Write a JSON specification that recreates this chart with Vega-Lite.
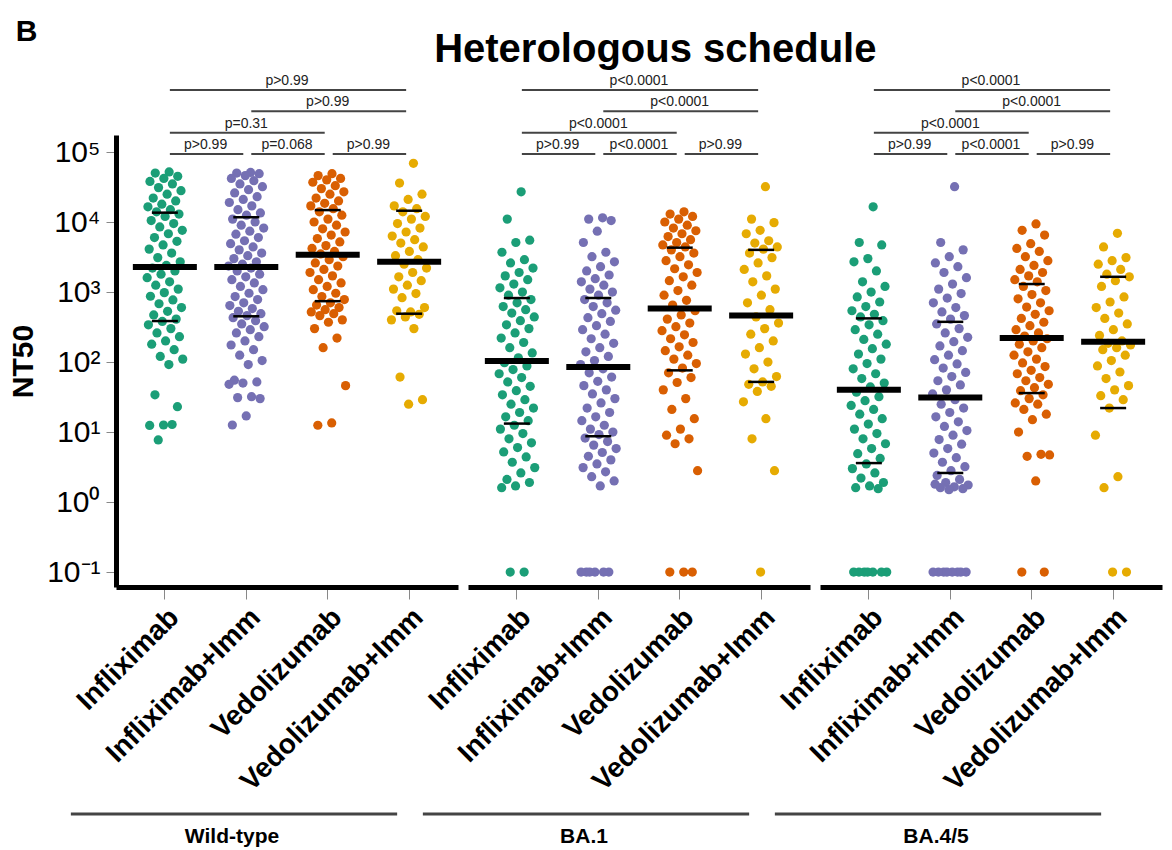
{
"$schema": "https://vega.github.io/schema/vega-lite/v6.json",
"padding": {"left": 8, "top": 16, "right": 5, "bottom": 5},
"config": {"view": {"stroke": null}, "font": "Liberation Sans", "axis": {"grid": false}},
"title": {"text": "B", "anchor": "start", "frame": "bounds", "fontSize": 30, "fontWeight": "bold", "font": "Liberation Sans", "color": "black", "offset": -20, "dy": -3, "dx": 7},
"vconcat": [{
"title": {"text": "Heterologous schedule", "fontSize": 40, "fontWeight": "bold", "font": "Liberation Sans", "color": "black", "anchor": "middle", "dx": 70},
"data": {"values": [
{"s":"WT","lab":"Wild-type"},{"s":"BA1","lab":"BA.1"},{"s":"BA45","lab":"BA.4/5"},
{"s":"WT","g1":"A","g2":"B","lvl":0,"p":"p>0.99","tm":"A","tb":"e"},
{"s":"WT","g1":"B","g2":"C","lvl":0,"p":"p=0.068","tm":"B","tb":"e"},
{"s":"WT","g1":"C","g2":"D","lvl":0,"p":"p>0.99","tm":"C","tb":"e"},
{"s":"WT","g1":"A","g2":"C","lvl":1,"p":"p=0.31","tm":"B","tb":"c"},
{"s":"WT","g1":"B","g2":"D","lvl":2,"p":"p>0.99","tm":"C","tb":"c"},
{"s":"WT","g1":"A","g2":"D","lvl":3,"p":"p>0.99","tm":"B","tb":"e"},
{"s":"BA1","g1":"A","g2":"B","lvl":0,"p":"p>0.99","tm":"A","tb":"e"},
{"s":"BA1","g1":"B","g2":"C","lvl":0,"p":"p<0.0001","tm":"B","tb":"e"},
{"s":"BA1","g1":"C","g2":"D","lvl":0,"p":"p>0.99","tm":"C","tb":"e"},
{"s":"BA1","g1":"A","g2":"C","lvl":1,"p":"p<0.0001","tm":"B","tb":"c"},
{"s":"BA1","g1":"B","g2":"D","lvl":2,"p":"p<0.0001","tm":"C","tb":"c"},
{"s":"BA1","g1":"A","g2":"D","lvl":3,"p":"p<0.0001","tm":"B","tb":"e"},
{"s":"BA45","g1":"A","g2":"B","lvl":0,"p":"p>0.99","tm":"A","tb":"e"},
{"s":"BA45","g1":"B","g2":"C","lvl":0,"p":"p<0.0001","tm":"B","tb":"e"},
{"s":"BA45","g1":"C","g2":"D","lvl":0,"p":"p>0.99","tm":"C","tb":"e"},
{"s":"BA45","g1":"A","g2":"C","lvl":1,"p":"p<0.0001","tm":"B","tb":"c"},
{"s":"BA45","g1":"B","g2":"D","lvl":2,"p":"p<0.0001","tm":"C","tb":"c"},
{"s":"BA45","g1":"A","g2":"D","lvl":3,"p":"p<0.0001","tm":"B","tb":"e"},
{"s":"WT","g":"A","med":2280,"q1":385,"q3":13600},
{"s":"WT","g":"B","med":2280,"q1":450,"q3":11700},
{"s":"WT","g":"C","med":3400,"q1":740,"q3":14800},
{"s":"WT","g":"D","med":2700,"q1":490,"q3":14500},
{"s":"BA1","g":"A","med":103,"q1":13.2,"q3":820},
{"s":"BA1","g":"B","med":85,"q1":8.7,"q3":820},
{"s":"BA1","g":"C","med":580,"q1":76,"q3":4300},
{"s":"BA1","g":"D","med":460,"q1":52,"q3":4000},
{"s":"BA45","g":"A","med":40,"q1":3.6,"q3":420},
{"s":"BA45","g":"B","med":31,"q1":2.6,"q3":375},
{"s":"BA45","g":"C","med":220,"q1":36,"q3":1300},
{"s":"BA45","g":"D","med":195,"q1":22,"q3":1650},
{"s":"WT","g":"A","v":52000},{"s":"WT","g":"A","v":50000},{"s":"WT","g":"A","v":45000},{"s":"WT","g":"A","v":42000},{"s":"WT","g":"A","v":38000},{"s":"WT","g":"A","v":35000},{"s":"WT","g":"A","v":31000},{"s":"WT","g":"A","v":28000},{"s":"WT","g":"A","v":25000},{"s":"WT","g":"A","v":22000},{"s":"WT","g":"A","v":20000},{"s":"WT","g":"A","v":18000},{"s":"WT","g":"A","v":16500},{"s":"WT","g":"A","v":15000},{"s":"WT","g":"A","v":14000},{"s":"WT","g":"A","v":13000},{"s":"WT","g":"A","v":12000},{"s":"WT","g":"A","v":10500},{"s":"WT","g":"A","v":9500},{"s":"WT","g":"A","v":8500},{"s":"WT","g":"A","v":7600},{"s":"WT","g":"A","v":6800},{"s":"WT","g":"A","v":6000},{"s":"WT","g":"A","v":5300},{"s":"WT","g":"A","v":4700},{"s":"WT","g":"A","v":4100},{"s":"WT","g":"A","v":3600},{"s":"WT","g":"A","v":3100},{"s":"WT","g":"A","v":2700},{"s":"WT","g":"A","v":2400},{"s":"WT","g":"A","v":2200},{"s":"WT","g":"A","v":2000},{"s":"WT","g":"A","v":1800},{"s":"WT","g":"A","v":1600},{"s":"WT","g":"A","v":1400},{"s":"WT","g":"A","v":1250},{"s":"WT","g":"A","v":1100},{"s":"WT","g":"A","v":980},{"s":"WT","g":"A","v":870},{"s":"WT","g":"A","v":770},{"s":"WT","g":"A","v":680},{"s":"WT","g":"A","v":600},{"s":"WT","g":"A","v":530},{"s":"WT","g":"A","v":470},{"s":"WT","g":"A","v":410},{"s":"WT","g":"A","v":380},{"s":"WT","g":"A","v":340},{"s":"WT","g":"A","v":300},{"s":"WT","g":"A","v":260},{"s":"WT","g":"A","v":230},{"s":"WT","g":"A","v":200},{"s":"WT","g":"A","v":180},{"s":"WT","g":"A","v":150},{"s":"WT","g":"A","v":120},{"s":"WT","g":"A","v":110},{"s":"WT","g":"A","v":92},{"s":"WT","g":"A","v":34},{"s":"WT","g":"A","v":23},{"s":"WT","g":"A","v":12.6},{"s":"WT","g":"A","v":12.4},{"s":"WT","g":"A","v":12.8},{"s":"WT","g":"A","v":7.7},
{"s":"WT","g":"B","v":51000},{"s":"WT","g":"B","v":50000},{"s":"WT","g":"B","v":49000},{"s":"WT","g":"B","v":46000},{"s":"WT","g":"B","v":42000},{"s":"WT","g":"B","v":39000},{"s":"WT","g":"B","v":35000},{"s":"WT","g":"B","v":32000},{"s":"WT","g":"B","v":29000},{"s":"WT","g":"B","v":26000},{"s":"WT","g":"B","v":23000},{"s":"WT","g":"B","v":21000},{"s":"WT","g":"B","v":19000},{"s":"WT","g":"B","v":17000},{"s":"WT","g":"B","v":15000},{"s":"WT","g":"B","v":13500},{"s":"WT","g":"B","v":12500},{"s":"WT","g":"B","v":11000},{"s":"WT","g":"B","v":10000},{"s":"WT","g":"B","v":9000},{"s":"WT","g":"B","v":8200},{"s":"WT","g":"B","v":7400},{"s":"WT","g":"B","v":6700},{"s":"WT","g":"B","v":6000},{"s":"WT","g":"B","v":5400},{"s":"WT","g":"B","v":4900},{"s":"WT","g":"B","v":4400},{"s":"WT","g":"B","v":4000},{"s":"WT","g":"B","v":3600},{"s":"WT","g":"B","v":3300},{"s":"WT","g":"B","v":3000},{"s":"WT","g":"B","v":2700},{"s":"WT","g":"B","v":2500},{"s":"WT","g":"B","v":2350},{"s":"WT","g":"B","v":2200},{"s":"WT","g":"B","v":2000},{"s":"WT","g":"B","v":1800},{"s":"WT","g":"B","v":1650},{"s":"WT","g":"B","v":1500},{"s":"WT","g":"B","v":1350},{"s":"WT","g":"B","v":1200},{"s":"WT","g":"B","v":1080},{"s":"WT","g":"B","v":960},{"s":"WT","g":"B","v":860},{"s":"WT","g":"B","v":780},{"s":"WT","g":"B","v":700},{"s":"WT","g":"B","v":640},{"s":"WT","g":"B","v":580},{"s":"WT","g":"B","v":530},{"s":"WT","g":"B","v":490},{"s":"WT","g":"B","v":460},{"s":"WT","g":"B","v":430},{"s":"WT","g":"B","v":390},{"s":"WT","g":"B","v":350},{"s":"WT","g":"B","v":320},{"s":"WT","g":"B","v":290},{"s":"WT","g":"B","v":260},{"s":"WT","g":"B","v":230},{"s":"WT","g":"B","v":200},{"s":"WT","g":"B","v":175},{"s":"WT","g":"B","v":150},{"s":"WT","g":"B","v":125},{"s":"WT","g":"B","v":105},{"s":"WT","g":"B","v":92},{"s":"WT","g":"B","v":55},{"s":"WT","g":"B","v":52},{"s":"WT","g":"B","v":50},{"s":"WT","g":"B","v":48},{"s":"WT","g":"B","v":32},{"s":"WT","g":"B","v":31},{"s":"WT","g":"B","v":30},{"s":"WT","g":"B","v":17},{"s":"WT","g":"B","v":12.6},
{"s":"WT","g":"C","v":49000},{"s":"WT","g":"C","v":46000},{"s":"WT","g":"C","v":42000},{"s":"WT","g":"C","v":40000},{"s":"WT","g":"C","v":37000},{"s":"WT","g":"C","v":33000},{"s":"WT","g":"C","v":30000},{"s":"WT","g":"C","v":27000},{"s":"WT","g":"C","v":25000},{"s":"WT","g":"C","v":22000},{"s":"WT","g":"C","v":20000},{"s":"WT","g":"C","v":18500},{"s":"WT","g":"C","v":17000},{"s":"WT","g":"C","v":15500},{"s":"WT","g":"C","v":14000},{"s":"WT","g":"C","v":12500},{"s":"WT","g":"C","v":11000},{"s":"WT","g":"C","v":10000},{"s":"WT","g":"C","v":9000},{"s":"WT","g":"C","v":8000},{"s":"WT","g":"C","v":7200},{"s":"WT","g":"C","v":6500},{"s":"WT","g":"C","v":5800},{"s":"WT","g":"C","v":5200},{"s":"WT","g":"C","v":4600},{"s":"WT","g":"C","v":4200},{"s":"WT","g":"C","v":3800},{"s":"WT","g":"C","v":3500},{"s":"WT","g":"C","v":3200},{"s":"WT","g":"C","v":2900},{"s":"WT","g":"C","v":2600},{"s":"WT","g":"C","v":2350},{"s":"WT","g":"C","v":2100},{"s":"WT","g":"C","v":1900},{"s":"WT","g":"C","v":1700},{"s":"WT","g":"C","v":1500},{"s":"WT","g":"C","v":1350},{"s":"WT","g":"C","v":1200},{"s":"WT","g":"C","v":1080},{"s":"WT","g":"C","v":960},{"s":"WT","g":"C","v":860},{"s":"WT","g":"C","v":780},{"s":"WT","g":"C","v":700},{"s":"WT","g":"C","v":650},{"s":"WT","g":"C","v":600},{"s":"WT","g":"C","v":560},{"s":"WT","g":"C","v":520},{"s":"WT","g":"C","v":490},{"s":"WT","g":"C","v":460},{"s":"WT","g":"C","v":400},{"s":"WT","g":"C","v":370},{"s":"WT","g":"C","v":300},{"s":"WT","g":"C","v":220},{"s":"WT","g":"C","v":160},{"s":"WT","g":"C","v":46},{"s":"WT","g":"C","v":13.5},{"s":"WT","g":"C","v":12.5},
{"s":"WT","g":"D","v":69000},{"s":"WT","g":"D","v":36000},{"s":"WT","g":"D","v":25000},{"s":"WT","g":"D","v":21000},{"s":"WT","g":"D","v":17000},{"s":"WT","g":"D","v":15500},{"s":"WT","g":"D","v":14000},{"s":"WT","g":"D","v":12000},{"s":"WT","g":"D","v":11000},{"s":"WT","g":"D","v":9500},{"s":"WT","g":"D","v":8200},{"s":"WT","g":"D","v":7200},{"s":"WT","g":"D","v":6300},{"s":"WT","g":"D","v":5600},{"s":"WT","g":"D","v":5000},{"s":"WT","g":"D","v":4400},{"s":"WT","g":"D","v":3800},{"s":"WT","g":"D","v":3300},{"s":"WT","g":"D","v":2900},{"s":"WT","g":"D","v":2500},{"s":"WT","g":"D","v":2200},{"s":"WT","g":"D","v":1900},{"s":"WT","g":"D","v":1650},{"s":"WT","g":"D","v":1450},{"s":"WT","g":"D","v":1250},{"s":"WT","g":"D","v":1100},{"s":"WT","g":"D","v":950},{"s":"WT","g":"D","v":830},{"s":"WT","g":"D","v":600},{"s":"WT","g":"D","v":520},{"s":"WT","g":"D","v":540},{"s":"WT","g":"D","v":480},{"s":"WT","g":"D","v":440},{"s":"WT","g":"D","v":400},{"s":"WT","g":"D","v":300},{"s":"WT","g":"D","v":61},{"s":"WT","g":"D","v":29},{"s":"WT","g":"D","v":25},
{"s":"BA1","g":"A","v":27000},{"s":"BA1","g":"A","v":11000},{"s":"BA1","g":"A","v":5500},{"s":"BA1","g":"A","v":5100},{"s":"BA1","g":"A","v":3700},{"s":"BA1","g":"A","v":2900},{"s":"BA1","g":"A","v":2600},{"s":"BA1","g":"A","v":2200},{"s":"BA1","g":"A","v":1900},{"s":"BA1","g":"A","v":1700},{"s":"BA1","g":"A","v":1500},{"s":"BA1","g":"A","v":1300},{"s":"BA1","g":"A","v":1150},{"s":"BA1","g":"A","v":1000},{"s":"BA1","g":"A","v":900},{"s":"BA1","g":"A","v":780},{"s":"BA1","g":"A","v":700},{"s":"BA1","g":"A","v":620},{"s":"BA1","g":"A","v":560},{"s":"BA1","g":"A","v":500},{"s":"BA1","g":"A","v":440},{"s":"BA1","g":"A","v":390},{"s":"BA1","g":"A","v":340},{"s":"BA1","g":"A","v":300},{"s":"BA1","g":"A","v":260},{"s":"BA1","g":"A","v":220},{"s":"BA1","g":"A","v":190},{"s":"BA1","g":"A","v":160},{"s":"BA1","g":"A","v":135},{"s":"BA1","g":"A","v":115},{"s":"BA1","g":"A","v":98},{"s":"BA1","g":"A","v":88},{"s":"BA1","g":"A","v":78},{"s":"BA1","g":"A","v":68},{"s":"BA1","g":"A","v":60},{"s":"BA1","g":"A","v":52},{"s":"BA1","g":"A","v":45},{"s":"BA1","g":"A","v":39},{"s":"BA1","g":"A","v":34},{"s":"BA1","g":"A","v":29},{"s":"BA1","g":"A","v":25},{"s":"BA1","g":"A","v":22},{"s":"BA1","g":"A","v":19},{"s":"BA1","g":"A","v":16.5},{"s":"BA1","g":"A","v":14.5},{"s":"BA1","g":"A","v":12.5},{"s":"BA1","g":"A","v":11},{"s":"BA1","g":"A","v":9.5},{"s":"BA1","g":"A","v":8},{"s":"BA1","g":"A","v":7},{"s":"BA1","g":"A","v":6},{"s":"BA1","g":"A","v":5.2},{"s":"BA1","g":"A","v":4.4},{"s":"BA1","g":"A","v":3.7},{"s":"BA1","g":"A","v":3.1},{"s":"BA1","g":"A","v":2.6},{"s":"BA1","g":"A","v":2.1},{"s":"BA1","g":"A","v":1.9},{"s":"BA1","g":"A","v":1.7},{"s":"BA1","g":"A","v":1.6},{"s":"BA1","g":"A","v":0.1},{"s":"BA1","g":"A","v":0.1},
{"s":"BA1","g":"B","v":11500},{"s":"BA1","g":"B","v":11000},{"s":"BA1","g":"B","v":10500},{"s":"BA1","g":"B","v":7400},{"s":"BA1","g":"B","v":5100},{"s":"BA1","g":"B","v":3700},{"s":"BA1","g":"B","v":3200},{"s":"BA1","g":"B","v":2700},{"s":"BA1","g":"B","v":2300},{"s":"BA1","g":"B","v":2000},{"s":"BA1","g":"B","v":1750},{"s":"BA1","g":"B","v":1550},{"s":"BA1","g":"B","v":1400},{"s":"BA1","g":"B","v":1250},{"s":"BA1","g":"B","v":1100},{"s":"BA1","g":"B","v":1000},{"s":"BA1","g":"B","v":900},{"s":"BA1","g":"B","v":780},{"s":"BA1","g":"B","v":700},{"s":"BA1","g":"B","v":620},{"s":"BA1","g":"B","v":550},{"s":"BA1","g":"B","v":490},{"s":"BA1","g":"B","v":430},{"s":"BA1","g":"B","v":380},{"s":"BA1","g":"B","v":330},{"s":"BA1","g":"B","v":290},{"s":"BA1","g":"B","v":250},{"s":"BA1","g":"B","v":215},{"s":"BA1","g":"B","v":185},{"s":"BA1","g":"B","v":160},{"s":"BA1","g":"B","v":140},{"s":"BA1","g":"B","v":120},{"s":"BA1","g":"B","v":105},{"s":"BA1","g":"B","v":92},{"s":"BA1","g":"B","v":80},{"s":"BA1","g":"B","v":70},{"s":"BA1","g":"B","v":61},{"s":"BA1","g":"B","v":53},{"s":"BA1","g":"B","v":46},{"s":"BA1","g":"B","v":40},{"s":"BA1","g":"B","v":35},{"s":"BA1","g":"B","v":30},{"s":"BA1","g":"B","v":26},{"s":"BA1","g":"B","v":22},{"s":"BA1","g":"B","v":19},{"s":"BA1","g":"B","v":16.5},{"s":"BA1","g":"B","v":14.5},{"s":"BA1","g":"B","v":12.5},{"s":"BA1","g":"B","v":11},{"s":"BA1","g":"B","v":10},{"s":"BA1","g":"B","v":9.2},{"s":"BA1","g":"B","v":8.2},{"s":"BA1","g":"B","v":7.3},{"s":"BA1","g":"B","v":6.5},{"s":"BA1","g":"B","v":5.8},{"s":"BA1","g":"B","v":5.1},{"s":"BA1","g":"B","v":4.5},{"s":"BA1","g":"B","v":4},{"s":"BA1","g":"B","v":3.5},{"s":"BA1","g":"B","v":3.1},{"s":"BA1","g":"B","v":2.7},{"s":"BA1","g":"B","v":2.3},{"s":"BA1","g":"B","v":2},{"s":"BA1","g":"B","v":1.7},{"s":"BA1","g":"B","v":0.1},{"s":"BA1","g":"B","v":0.1},{"s":"BA1","g":"B","v":0.1},{"s":"BA1","g":"B","v":0.1},{"s":"BA1","g":"B","v":0.1},{"s":"BA1","g":"B","v":0.1},
{"s":"BA1","g":"C","v":14000},{"s":"BA1","g":"C","v":13000},{"s":"BA1","g":"C","v":12000},{"s":"BA1","g":"C","v":11000},{"s":"BA1","g":"C","v":10000},{"s":"BA1","g":"C","v":9000},{"s":"BA1","g":"C","v":8200},{"s":"BA1","g":"C","v":7500},{"s":"BA1","g":"C","v":6800},{"s":"BA1","g":"C","v":6200},{"s":"BA1","g":"C","v":5600},{"s":"BA1","g":"C","v":5100},{"s":"BA1","g":"C","v":4700},{"s":"BA1","g":"C","v":4400},{"s":"BA1","g":"C","v":4000},{"s":"BA1","g":"C","v":3600},{"s":"BA1","g":"C","v":3200},{"s":"BA1","g":"C","v":2800},{"s":"BA1","g":"C","v":2450},{"s":"BA1","g":"C","v":2150},{"s":"BA1","g":"C","v":1900},{"s":"BA1","g":"C","v":1650},{"s":"BA1","g":"C","v":1450},{"s":"BA1","g":"C","v":1250},{"s":"BA1","g":"C","v":1050},{"s":"BA1","g":"C","v":900},{"s":"BA1","g":"C","v":760},{"s":"BA1","g":"C","v":650},{"s":"BA1","g":"C","v":540},{"s":"BA1","g":"C","v":470},{"s":"BA1","g":"C","v":410},{"s":"BA1","g":"C","v":360},{"s":"BA1","g":"C","v":320},{"s":"BA1","g":"C","v":280},{"s":"BA1","g":"C","v":245},{"s":"BA1","g":"C","v":215},{"s":"BA1","g":"C","v":190},{"s":"BA1","g":"C","v":165},{"s":"BA1","g":"C","v":145},{"s":"BA1","g":"C","v":125},{"s":"BA1","g":"C","v":110},{"s":"BA1","g":"C","v":95},{"s":"BA1","g":"C","v":82},{"s":"BA1","g":"C","v":70},{"s":"BA1","g":"C","v":60},{"s":"BA1","g":"C","v":51},{"s":"BA1","g":"C","v":40},{"s":"BA1","g":"C","v":30},{"s":"BA1","g":"C","v":21},{"s":"BA1","g":"C","v":15.5},{"s":"BA1","g":"C","v":11},{"s":"BA1","g":"C","v":9},{"s":"BA1","g":"C","v":8},{"s":"BA1","g":"C","v":6.8},{"s":"BA1","g":"C","v":2.8},{"s":"BA1","g":"C","v":0.1},{"s":"BA1","g":"C","v":0.1},{"s":"BA1","g":"C","v":0.1},
{"s":"BA1","g":"D","v":32000},{"s":"BA1","g":"D","v":11000},{"s":"BA1","g":"D","v":9800},{"s":"BA1","g":"D","v":7600},{"s":"BA1","g":"D","v":6800},{"s":"BA1","g":"D","v":5400},{"s":"BA1","g":"D","v":5000},{"s":"BA1","g":"D","v":4400},{"s":"BA1","g":"D","v":4100},{"s":"BA1","g":"D","v":3600},{"s":"BA1","g":"D","v":3100},{"s":"BA1","g":"D","v":2600},{"s":"BA1","g":"D","v":2100},{"s":"BA1","g":"D","v":1700},{"s":"BA1","g":"D","v":1400},{"s":"BA1","g":"D","v":1100},{"s":"BA1","g":"D","v":900},{"s":"BA1","g":"D","v":700},{"s":"BA1","g":"D","v":560},{"s":"BA1","g":"D","v":440},{"s":"BA1","g":"D","v":360},{"s":"BA1","g":"D","v":300},{"s":"BA1","g":"D","v":250},{"s":"BA1","g":"D","v":200},{"s":"BA1","g":"D","v":160},{"s":"BA1","g":"D","v":130},{"s":"BA1","g":"D","v":100},{"s":"BA1","g":"D","v":80},{"s":"BA1","g":"D","v":62},{"s":"BA1","g":"D","v":52},{"s":"BA1","g":"D","v":48},{"s":"BA1","g":"D","v":45},{"s":"BA1","g":"D","v":38},{"s":"BA1","g":"D","v":27},{"s":"BA1","g":"D","v":15.5},{"s":"BA1","g":"D","v":8},{"s":"BA1","g":"D","v":2.8},{"s":"BA1","g":"D","v":0.1},
{"s":"BA45","g":"A","v":16500},{"s":"BA45","g":"A","v":5100},{"s":"BA45","g":"A","v":4700},{"s":"BA45","g":"A","v":3000},{"s":"BA45","g":"A","v":2700},{"s":"BA45","g":"A","v":2000},{"s":"BA45","g":"A","v":1400},{"s":"BA45","g":"A","v":1200},{"s":"BA45","g":"A","v":1000},{"s":"BA45","g":"A","v":850},{"s":"BA45","g":"A","v":720},{"s":"BA45","g":"A","v":620},{"s":"BA45","g":"A","v":540},{"s":"BA45","g":"A","v":480},{"s":"BA45","g":"A","v":440},{"s":"BA45","g":"A","v":390},{"s":"BA45","g":"A","v":340},{"s":"BA45","g":"A","v":290},{"s":"BA45","g":"A","v":250},{"s":"BA45","g":"A","v":210},{"s":"BA45","g":"A","v":180},{"s":"BA45","g":"A","v":155},{"s":"BA45","g":"A","v":130},{"s":"BA45","g":"A","v":110},{"s":"BA45","g":"A","v":95},{"s":"BA45","g":"A","v":80},{"s":"BA45","g":"A","v":68},{"s":"BA45","g":"A","v":58},{"s":"BA45","g":"A","v":50},{"s":"BA45","g":"A","v":44},{"s":"BA45","g":"A","v":37},{"s":"BA45","g":"A","v":32},{"s":"BA45","g":"A","v":28},{"s":"BA45","g":"A","v":24},{"s":"BA45","g":"A","v":21},{"s":"BA45","g":"A","v":18},{"s":"BA45","g":"A","v":15.5},{"s":"BA45","g":"A","v":13},{"s":"BA45","g":"A","v":11},{"s":"BA45","g":"A","v":9.5},{"s":"BA45","g":"A","v":8},{"s":"BA45","g":"A","v":6.8},{"s":"BA45","g":"A","v":5.8},{"s":"BA45","g":"A","v":4.9},{"s":"BA45","g":"A","v":4.2},{"s":"BA45","g":"A","v":3.5},{"s":"BA45","g":"A","v":3},{"s":"BA45","g":"A","v":2.6},{"s":"BA45","g":"A","v":2.2},{"s":"BA45","g":"A","v":1.9},{"s":"BA45","g":"A","v":1.7},{"s":"BA45","g":"A","v":1.6},{"s":"BA45","g":"A","v":1.55},{"s":"BA45","g":"A","v":0.1},{"s":"BA45","g":"A","v":0.1},{"s":"BA45","g":"A","v":0.1},{"s":"BA45","g":"A","v":0.1},{"s":"BA45","g":"A","v":0.1},{"s":"BA45","g":"A","v":0.1},{"s":"BA45","g":"A","v":0.1},
{"s":"BA45","g":"B","v":32000},{"s":"BA45","g":"B","v":5100},{"s":"BA45","g":"B","v":4000},{"s":"BA45","g":"B","v":3200},{"s":"BA45","g":"B","v":2600},{"s":"BA45","g":"B","v":2300},{"s":"BA45","g":"B","v":1900},{"s":"BA45","g":"B","v":1600},{"s":"BA45","g":"B","v":1300},{"s":"BA45","g":"B","v":1100},{"s":"BA45","g":"B","v":950},{"s":"BA45","g":"B","v":820},{"s":"BA45","g":"B","v":700},{"s":"BA45","g":"B","v":600},{"s":"BA45","g":"B","v":520},{"s":"BA45","g":"B","v":460},{"s":"BA45","g":"B","v":410},{"s":"BA45","g":"B","v":350},{"s":"BA45","g":"B","v":300},{"s":"BA45","g":"B","v":260},{"s":"BA45","g":"B","v":225},{"s":"BA45","g":"B","v":195},{"s":"BA45","g":"B","v":170},{"s":"BA45","g":"B","v":145},{"s":"BA45","g":"B","v":125},{"s":"BA45","g":"B","v":108},{"s":"BA45","g":"B","v":94},{"s":"BA45","g":"B","v":82},{"s":"BA45","g":"B","v":71},{"s":"BA45","g":"B","v":62},{"s":"BA45","g":"B","v":54},{"s":"BA45","g":"B","v":47},{"s":"BA45","g":"B","v":40},{"s":"BA45","g":"B","v":35},{"s":"BA45","g":"B","v":29},{"s":"BA45","g":"B","v":25},{"s":"BA45","g":"B","v":22},{"s":"BA45","g":"B","v":19},{"s":"BA45","g":"B","v":16.5},{"s":"BA45","g":"B","v":14},{"s":"BA45","g":"B","v":12},{"s":"BA45","g":"B","v":10.5},{"s":"BA45","g":"B","v":9},{"s":"BA45","g":"B","v":7.8},{"s":"BA45","g":"B","v":6.7},{"s":"BA45","g":"B","v":5.8},{"s":"BA45","g":"B","v":5},{"s":"BA45","g":"B","v":4.3},{"s":"BA45","g":"B","v":3.7},{"s":"BA45","g":"B","v":3.2},{"s":"BA45","g":"B","v":2.8},{"s":"BA45","g":"B","v":2.4},{"s":"BA45","g":"B","v":2.1},{"s":"BA45","g":"B","v":1.9},{"s":"BA45","g":"B","v":1.75},{"s":"BA45","g":"B","v":1.65},{"s":"BA45","g":"B","v":1.6},{"s":"BA45","g":"B","v":1.55},{"s":"BA45","g":"B","v":1.5},{"s":"BA45","g":"B","v":1.8},{"s":"BA45","g":"B","v":0.1},{"s":"BA45","g":"B","v":0.1},{"s":"BA45","g":"B","v":0.1},{"s":"BA45","g":"B","v":0.1},{"s":"BA45","g":"B","v":0.1},{"s":"BA45","g":"B","v":0.1},{"s":"BA45","g":"B","v":0.1},{"s":"BA45","g":"B","v":0.1},
{"s":"BA45","g":"C","v":9400},{"s":"BA45","g":"C","v":7600},{"s":"BA45","g":"C","v":6500},{"s":"BA45","g":"C","v":4900},{"s":"BA45","g":"C","v":4200},{"s":"BA45","g":"C","v":3800},{"s":"BA45","g":"C","v":3200},{"s":"BA45","g":"C","v":2800},{"s":"BA45","g":"C","v":2400},{"s":"BA45","g":"C","v":2100},{"s":"BA45","g":"C","v":1900},{"s":"BA45","g":"C","v":1700},{"s":"BA45","g":"C","v":1500},{"s":"BA45","g":"C","v":1400},{"s":"BA45","g":"C","v":1200},{"s":"BA45","g":"C","v":1050},{"s":"BA45","g":"C","v":920},{"s":"BA45","g":"C","v":800},{"s":"BA45","g":"C","v":700},{"s":"BA45","g":"C","v":610},{"s":"BA45","g":"C","v":540},{"s":"BA45","g":"C","v":480},{"s":"BA45","g":"C","v":420},{"s":"BA45","g":"C","v":370},{"s":"BA45","g":"C","v":330},{"s":"BA45","g":"C","v":290},{"s":"BA45","g":"C","v":260},{"s":"BA45","g":"C","v":235},{"s":"BA45","g":"C","v":215},{"s":"BA45","g":"C","v":200},{"s":"BA45","g":"C","v":180},{"s":"BA45","g":"C","v":160},{"s":"BA45","g":"C","v":140},{"s":"BA45","g":"C","v":125},{"s":"BA45","g":"C","v":110},{"s":"BA45","g":"C","v":97},{"s":"BA45","g":"C","v":86},{"s":"BA45","g":"C","v":76},{"s":"BA45","g":"C","v":68},{"s":"BA45","g":"C","v":60},{"s":"BA45","g":"C","v":54},{"s":"BA45","g":"C","v":48},{"s":"BA45","g":"C","v":43},{"s":"BA45","g":"C","v":39},{"s":"BA45","g":"C","v":34},{"s":"BA45","g":"C","v":30},{"s":"BA45","g":"C","v":26},{"s":"BA45","g":"C","v":25},{"s":"BA45","g":"C","v":21},{"s":"BA45","g":"C","v":18},{"s":"BA45","g":"C","v":15},{"s":"BA45","g":"C","v":10},{"s":"BA45","g":"C","v":4.8},{"s":"BA45","g":"C","v":4.5},{"s":"BA45","g":"C","v":4.7},{"s":"BA45","g":"C","v":2},{"s":"BA45","g":"C","v":0.1},{"s":"BA45","g":"C","v":0.1},
{"s":"BA45","g":"D","v":6900},{"s":"BA45","g":"D","v":4400},{"s":"BA45","g":"D","v":3100},{"s":"BA45","g":"D","v":2800},{"s":"BA45","g":"D","v":2500},{"s":"BA45","g":"D","v":2100},{"s":"BA45","g":"D","v":1800},{"s":"BA45","g":"D","v":1650},{"s":"BA45","g":"D","v":1450},{"s":"BA45","g":"D","v":1200},{"s":"BA45","g":"D","v":850},{"s":"BA45","g":"D","v":720},{"s":"BA45","g":"D","v":600},{"s":"BA45","g":"D","v":500},{"s":"BA45","g":"D","v":420},{"s":"BA45","g":"D","v":350},{"s":"BA45","g":"D","v":290},{"s":"BA45","g":"D","v":240},{"s":"BA45","g":"D","v":200},{"s":"BA45","g":"D","v":185},{"s":"BA45","g":"D","v":175},{"s":"BA45","g":"D","v":160},{"s":"BA45","g":"D","v":150},{"s":"BA45","g":"D","v":125},{"s":"BA45","g":"D","v":105},{"s":"BA45","g":"D","v":88},{"s":"BA45","g":"D","v":72},{"s":"BA45","g":"D","v":58},{"s":"BA45","g":"D","v":46},{"s":"BA45","g":"D","v":40},{"s":"BA45","g":"D","v":33},{"s":"BA45","g":"D","v":29},{"s":"BA45","g":"D","v":22},{"s":"BA45","g":"D","v":9},{"s":"BA45","g":"D","v":2.3},{"s":"BA45","g":"D","v":1.6},{"s":"BA45","g":"D","v":0.1},{"s":"BA45","g":"D","v":0.1}
]},
"facet": {"column": {"field": "s", "type": "nominal", "sort": ["WT", "BA1", "BA45"], "header": {"labels": false, "title": null}}},
"spacing": 10,
"bounds": "flush",
"spec": {
"width": 342, "height": 452,
"layer": [
{"transform": [{"filter": "isValid(datum.v)"}, {"window": [{"op": "row_number", "as": "rn"}], "groupby": ["s", "g"]}, {"calculate": "(datum.rn*0.618034)%1-0.5", "as": "jit"}],
 "mark": {"type": "circle", "size": 85, "opacity": 1},
 "encoding": {
  "x": {"field": "g", "type": "nominal", "scale": {"paddingInner": 0, "paddingOuter": 0.1},
        "axis": {"title": null, "labelExpr": "datum.value=='A'?'Infliximab':datum.value=='B'?'Infliximab+Imm':datum.value=='C'?'Vedolizumab':'Vedolizumab+Imm'", "labelAngle": -45, "labelFontSize": 28, "labelFontWeight": "bold", "labelFont": "Liberation Sans", "labelColor": "black", "labelLimit": 400, "labelPadding": 4, "domainWidth": 5, "domainColor": "black", "tickColor": "#888", "tickSize": 12, "tickWidth": 1}},
  "xOffset": {"field": "jit", "type": "quantitative", "scale": {"domain": [-1.12, 1.12]}},
  "y": {"field": "v", "type": "quantitative", "scale": {"type": "log", "domain": [0.0611, 175000], "nice": false},
        "axis": {"title": "NT50", "values": [0.1, 1, 10, 100, 1000, 10000, 100000], "labelExpr": "'10' + ['⁻¹','⁰','¹','²','³','⁴','⁵'][round(log(datum.value)/LN10)+1]", "labelFontSize": 30, "labelFont": "Liberation Sans", "labelColor": "black", "labelPadding": 6, "tickSize": 10, "tickColor": "#888", "tickWidth": 1, "domainWidth": 5, "domainColor": "black", "titleFontSize": 30, "titleFontWeight": "bold", "titleFont": "Liberation Sans", "titleColor": "black", "titlePadding": 8}},
  "color": {"field": "g", "type": "nominal", "scale": {"domain": ["A", "B", "C", "D"], "range": ["#1b9e77", "#7570b3", "#d95f02", "#e6ab02"]}, "legend": null}
 }},
{"transform": [{"filter": "isValid(datum.med)"}],
 "mark": {"type": "tick", "color": "black", "opacity": 1, "size": 64, "thickness": 6},
 "encoding": {"x": {"field": "g", "type": "nominal"}, "y": {"field": "med", "type": "quantitative"}}},
{"transform": [{"filter": "isValid(datum.med)"}, {"fold": ["q1", "q3"], "as": ["k", "qv"]}],
 "mark": {"type": "tick", "color": "black", "opacity": 1, "size": 26, "thickness": 2.5},
 "encoding": {"x": {"field": "g", "type": "nominal"}, "y": {"field": "qv", "type": "quantitative"}}},
{"transform": [{"filter": "isValid(datum.lab)"}],
 "mark": {"type": "rule", "color": "#444", "strokeWidth": 3, "xOffset": -94, "x2Offset": -12},
 "encoding": {"x": {"datum": "A"}, "x2": {"datum": "D"}, "y": {"datum": 3.49e-5, "type": "quantitative"}}},
{"transform": [{"filter": "isValid(datum.lab)"}],
 "mark": {"type": "text", "font": "Liberation Sans", "fontWeight": "bold", "fontSize": 21, "xOffset": -55, "baseline": "middle", "color": "black"},
 "encoding": {"x": {"datum": "B", "bandPosition": 1}, "y": {"datum": 1.64e-5, "type": "quantitative"}, "text": {"field": "lab"}}},
{"transform": [{"filter": "isValid(datum.p)"}, {"calculate": "pow(10, 4.971 + 0.305*datum.lvl)", "as": "ly"}],
 "mark": {"type": "rule", "color": "#444", "strokeWidth": 2, "xOffset": 5, "x2Offset": -3},
 "encoding": {"x": {"field": "g1", "type": "nominal"}, "x2": {"field": "g2"}, "y": {"field": "ly", "type": "quantitative"}}},
{"transform": [{"filter": "datum.tb=='e'"}, {"calculate": "pow(10, 4.971 + 0.305*datum.lvl)", "as": "ly"}],
 "mark": {"type": "text", "fontSize": 14, "color": "#222", "dy": -5, "baseline": "alphabetic", "font": "Liberation Sans"},
 "encoding": {"x": {"field": "tm", "type": "nominal", "bandPosition": 1}, "y": {"field": "ly", "type": "quantitative"}, "text": {"field": "p"}}},
{"transform": [{"filter": "datum.tb=='c'"}, {"calculate": "pow(10, 4.971 + 0.305*datum.lvl)", "as": "ly"}],
 "mark": {"type": "text", "fontSize": 14, "color": "#222", "dy": -5, "baseline": "alphabetic", "font": "Liberation Sans"},
 "encoding": {"x": {"field": "tm", "type": "nominal", "bandPosition": 0.5}, "y": {"field": "ly", "type": "quantitative"}, "text": {"field": "p"}}}
]
}
}]
}
